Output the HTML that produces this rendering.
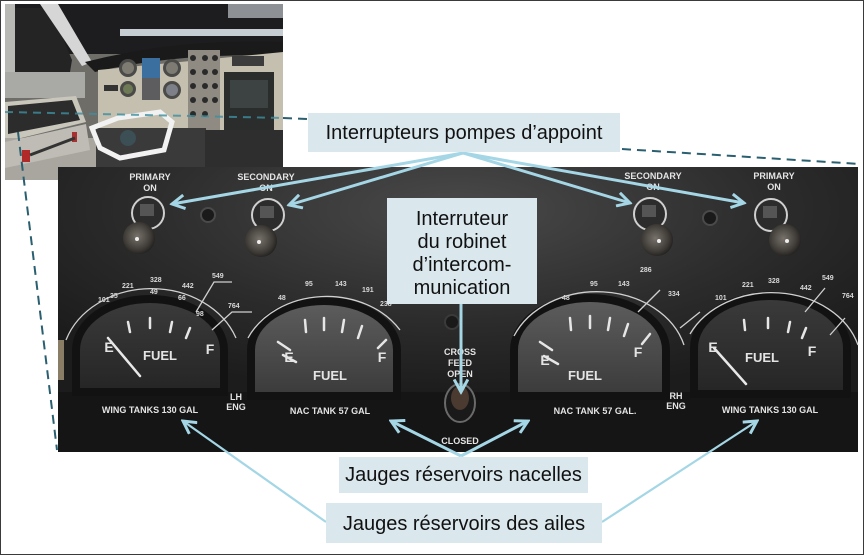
<!DOCTYPE html>
<html><head><meta charset="utf-8"><style>
html,body{margin:0;padding:0;background:#fff;}
svg{display:block;}
.lb{font-family:"Liberation Sans",Arial,sans-serif;font-size:20px;fill:#111;}
.pt{font-family:"Liberation Sans",Arial,sans-serif;font-weight:bold;fill:#e4e4e4;}
.sm{font-family:"Liberation Sans",Arial,sans-serif;font-weight:bold;fill:#d8d8d8;font-size:7px;}
</style></head><body>
<svg width="864" height="555" viewBox="0 0 864 555" xmlns="http://www.w3.org/2000/svg">
<defs>
<radialGradient id="pg" cx="0.5" cy="0.15" r="0.65">
<stop offset="0" stop-color="#4a4a4a"/><stop offset="0.6" stop-color="#2c2c2c"/><stop offset="1" stop-color="#1c1c1c"/></radialGradient>
<radialGradient id="kn" cx="0.45" cy="0.45" r="0.6">
<stop offset="0" stop-color="#77726a"/><stop offset="0.7" stop-color="#3e3b37"/><stop offset="1" stop-color="#1e1c1a"/></radialGradient>
<linearGradient id="fd" x1="0" y1="0" x2="0" y2="1">
<stop offset="0" stop-color="#3a3a3a"/><stop offset="1" stop-color="#262626"/></linearGradient>
<linearGradient id="fl" x1="0" y1="0" x2="0" y2="1">
<stop offset="0" stop-color="#5c5c5c"/><stop offset="1" stop-color="#3c3c3c"/></linearGradient>
<clipPath id="ph"><rect x="5" y="4" width="278" height="176"/></clipPath>
<marker id="ah" viewBox="0 0 14 14" refX="12" refY="7" markerWidth="16" markerHeight="16" markerUnits="userSpaceOnUse" orient="auto"><path d="M1,1 L12,7 L1,13" fill="none" stroke="#a4d6e6" stroke-width="2.6"/></marker>
</defs>
<rect x="0.5" y="0.5" width="863" height="554" fill="#fff" stroke="#3a3a3a"/>

<!-- cockpit photo -->
<g clip-path="url(#ph)">
<rect x="5" y="4" width="278" height="176" fill="#6e6d68"/>
<rect x="5" y="4" width="278" height="50" fill="#1d1d1f"/>
<rect x="228" y="4" width="55" height="14" fill="#8d9094"/>
<rect x="5" y="4" width="10" height="92" fill="#b8b8b4"/>
<polygon points="15,8 50,8 72,60 70,72 15,72" fill="#242424"/>
<polygon points="40,4 58,4 92,62 82,66" fill="#d6d6d6"/>
<rect x="5" y="72" width="80" height="26" fill="#a9a9a5"/>
<rect x="120" y="29" width="163" height="7" fill="#c6cdd3"/>
<path d="M85,62 Q180,38 283,42 L283,56 Q180,52 95,72 Z" fill="#1a1a1a"/>
<polygon points="98,70 283,52 283,140 98,140" fill="#c4bfaf"/>
<circle cx="128" cy="68" r="9" fill="#4a4a48"/><circle cx="128" cy="68" r="6" fill="#7d7b72"/>
<rect x="142" y="58" width="18" height="20" fill="#3a6fa0"/>
<rect x="142" y="78" width="18" height="22" fill="#5d5d60"/>
<circle cx="172" cy="68" r="9" fill="#4a4a48"/><circle cx="172" cy="68" r="6" fill="#7d7b72"/>
<circle cx="128" cy="89" r="8" fill="#4a4a48"/><circle cx="128" cy="89" r="5" fill="#6d7a55"/>
<circle cx="172" cy="90" r="9" fill="#4a4a48"/><circle cx="172" cy="90" r="6" fill="#7d8088"/>
<rect x="104" y="85" width="14" height="6" fill="#333"/>
<rect x="188" y="50" width="32" height="80" fill="#8f8b82"/>
<g fill="#2a2a2a"><circle cx="193" cy="58" r="3"/><circle cx="205" cy="58" r="3"/><circle cx="215" cy="58" r="3"/><circle cx="193" cy="72" r="3"/><circle cx="205" cy="72" r="3"/><circle cx="215" cy="72" r="3"/><circle cx="193" cy="86" r="3"/><circle cx="205" cy="86" r="3"/><circle cx="215" cy="86" r="3"/><circle cx="193" cy="100" r="3"/><circle cx="205" cy="100" r="3"/><circle cx="215" cy="100" r="3"/><circle cx="193" cy="114" r="3"/><circle cx="205" cy="114" r="3"/></g>
<rect x="232" y="56" width="32" height="10" fill="#3c3c3c"/>
<rect x="224" y="72" width="50" height="58" fill="#2b2d2c"/>
<rect x="230" y="80" width="38" height="28" fill="#3d4342"/>
<polygon points="5,102 76,96 86,122 5,142" fill="#c9c6bc"/>
<polygon points="8,106 72,100 80,120 8,134" fill="#2b2c2b"/>
<rect x="5" y="138" width="278" height="42" fill="#a8a69e"/>
<polygon points="5,142 86,124 90,150 5,168" fill="#bebcb4"/>
<rect x="22" y="150" width="8" height="12" fill="#b02a2a"/>
<rect x="72" y="132" width="5" height="10" fill="#a83030"/>
<line x1="30" y1="155" x2="75" y2="138" stroke="#333" stroke-width="3"/>
<rect x="96" y="128" width="110" height="52" fill="#3a3a3a"/>
<rect x="205" y="130" width="78" height="50" fill="#2e2e2e"/>
<path d="M92,128 L118,118 L160,112 L172,122 L164,150 L120,158 L100,148 Z" fill="none" stroke="#f2f2f2" stroke-width="5"/>
<circle cx="128" cy="138" r="8" fill="#3b4f55"/>
<line x1="5" y1="112" x2="283" y2="118" stroke="#3d8fa0" stroke-width="2" stroke-dasharray="8 6" opacity="0.8"/>
</g>

<!-- black panel -->
<rect x="58" y="167" width="800" height="285" fill="url(#pg)"/>
<rect x="58" y="392" width="800" height="60" fill="#111" opacity="0.55"/>
<rect x="58" y="340" width="6" height="40" fill="#8a7d66"/>

<!-- switch labels -->
<g class="pt" font-size="9" text-anchor="middle" fill="#c8c8c8">
<text x="150" y="180">PRIMARY</text><text x="150" y="191">ON</text>
<text x="266" y="180">SECONDARY</text><text x="266" y="191">ON</text>
<text x="653" y="179">SECONDARY</text><text x="653" y="190">ON</text>
<text x="774" y="179">PRIMARY</text><text x="774" y="190">ON</text>
</g>

<!-- switches -->
<g>
<circle cx="148" cy="213" r="16" fill="#2c2c2c" stroke="#cfcfcf" stroke-width="2"/>
<rect x="140" y="204" width="14" height="12" fill="#555"/>
<circle cx="139" cy="238" r="16" fill="url(#kn)"/><circle cx="137" cy="239" r="2" fill="#eee"/>
<circle cx="268" cy="215" r="16" fill="#2c2c2c" stroke="#cfcfcf" stroke-width="2"/>
<rect x="260" y="206" width="14" height="12" fill="#555"/>
<circle cx="261" cy="241" r="16" fill="url(#kn)"/><circle cx="259" cy="242" r="2" fill="#eee"/>
<circle cx="650" cy="214" r="16" fill="#2c2c2c" stroke="#cfcfcf" stroke-width="2"/>
<rect x="642" y="205" width="14" height="12" fill="#555"/>
<circle cx="657" cy="240" r="16" fill="url(#kn)"/><circle cx="659" cy="241" r="2" fill="#eee"/>
<circle cx="771" cy="215" r="16" fill="#2c2c2c" stroke="#cfcfcf" stroke-width="2"/>
<rect x="763" y="206" width="14" height="12" fill="#555"/>
<circle cx="785" cy="240" r="16" fill="url(#kn)"/><circle cx="787" cy="241" r="2" fill="#eee"/>
<circle cx="208" cy="215" r="7" fill="#1a1a1a" stroke="#4a4a4a" stroke-width="2"/>
<circle cx="710" cy="218" r="7" fill="#1a1a1a" stroke="#4a4a4a" stroke-width="2"/>
<circle cx="452" cy="322" r="7" fill="#1a1a1a" stroke="#3a3a3a" stroke-width="2"/>
</g>

<!-- gauge bezels -->
<g fill="#121212">
<path d="M72,396 L72,350 A78,55 0 0 1 228,350 L228,396 Z"/>
<path d="M247,400 L247,350 A77,53 0 0 1 401,350 L401,400 Z"/>
<path d="M510,400 L510,350 A80,56 0 0 1 670,350 L670,400 Z"/>
<path d="M690,398 L690,348 A80,56 0 0 1 851,348 L851,398 Z"/>
</g>
<!-- faces -->
<path d="M80,388 L80,350 A70,47 0 0 1 220,350 L220,388 Z" fill="url(#fd)"/>
<path d="M255,392 L255,350 A69,45 0 0 1 393,350 L393,392 Z" fill="url(#fl)"/>
<path d="M518,392 L518,350 A72,48 0 0 1 662,350 L662,392 Z" fill="url(#fl)"/>
<path d="M698,390 L698,348 A72.5,48 0 0 1 843,348 L843,390 Z" fill="url(#fd)"/>

<!-- scale arcs -->
<g fill="none" stroke="#d0d0d0" stroke-width="1.3">
<path d="M66,340 A90,75 0 0 1 236,338"/>
<path d="M248,338 A86,70 0 0 1 400,330"/>
<path d="M514,336 A90,72 0 0 1 684,345"/>
<path d="M690,334 A90,72 0 0 1 858,345"/>
<path d="M196,312 L214,282 L232,282"/><path d="M212,330 L232,312 L252,312"/>
<path d="M660,290 L638,312"/><path d="M700,312 L680,328"/>
<path d="M825,288 L805,312"/><path d="M845,318 L830,335"/>
</g>
<g class="sm">
<text x="98" y="302">101</text><text x="122" y="288">221</text><text x="150" y="282">328</text><text x="182" y="288">442</text><text x="212" y="278">549</text><text x="228" y="308">764</text>
<text x="110" y="298">35</text><text x="150" y="294">49</text><text x="178" y="300">66</text><text x="196" y="316">98</text>
<text x="278" y="300">48</text><text x="305" y="286">95</text><text x="335" y="286">143</text><text x="362" y="292">191</text><text x="380" y="306">238</text>
<text x="562" y="300">48</text><text x="590" y="286">95</text><text x="618" y="286">143</text><text x="640" y="272">286</text><text x="668" y="296">334</text>
<text x="715" y="300">101</text><text x="742" y="287">221</text><text x="768" y="283">328</text><text x="800" y="290">442</text><text x="822" y="280">549</text><text x="842" y="298">764</text>
</g>

<!-- gauge ticks & labels -->
<g stroke="#e6e6e6" stroke-width="2.5" stroke-linecap="round">
<line x1="128" y1="322" x2="130" y2="332"/><line x1="150" y1="318" x2="150" y2="328"/><line x1="172" y1="322" x2="170" y2="332"/><line x1="190" y1="328" x2="186" y2="338"/>
<line x1="278" y1="342" x2="290" y2="350"/><line x1="283" y1="355" x2="296" y2="362"/><line x1="305" y1="320" x2="306" y2="332"/><line x1="324" y1="318" x2="324" y2="330"/><line x1="344" y1="320" x2="342" y2="332"/><line x1="362" y1="326" x2="358" y2="338"/><line x1="386" y1="340" x2="378" y2="348"/>
<line x1="540" y1="342" x2="552" y2="350"/><line x1="544" y1="356" x2="558" y2="364"/><line x1="570" y1="318" x2="571" y2="330"/><line x1="590" y1="316" x2="590" y2="328"/><line x1="610" y1="318" x2="608" y2="330"/><line x1="628" y1="324" x2="624" y2="336"/><line x1="650" y1="334" x2="642" y2="344"/>
<line x1="744" y1="320" x2="745" y2="330"/><line x1="768" y1="318" x2="768" y2="328"/><line x1="790" y1="322" x2="788" y2="332"/><line x1="806" y1="328" x2="802" y2="338"/>
</g>
<g stroke="#e8e8e8" stroke-width="2.5" stroke-linecap="round">
<line x1="108" y1="338" x2="140" y2="376"/>
<line x1="714" y1="348" x2="746" y2="384"/>
</g>
<g class="pt" font-size="13" text-anchor="middle">
<text x="160" y="360">FUEL</text><text x="330" y="380">FUEL</text><text x="585" y="380">FUEL</text><text x="762" y="362">FUEL</text>
<text x="109" y="352" font-size="14">E</text><text x="210" y="354" font-size="14">F</text>
<text x="289" y="362" font-size="14">E</text><text x="382" y="362" font-size="14">F</text>
<text x="545" y="365" font-size="14">E</text><text x="638" y="357" font-size="14">F</text>
<text x="713" y="352" font-size="14">E</text><text x="812" y="356" font-size="14">F</text>
</g>
<g class="pt" font-size="9" text-anchor="middle">
<text x="150" y="413">WING  TANKS 130 GAL</text>
<text x="330" y="414">NAC TANK 57 GAL</text>
<text x="595" y="414">NAC TANK 57 GAL.</text>
<text x="770" y="413">WING TANKS 130 GAL</text>
<text x="236" y="400">LH</text><text x="236" y="410">ENG</text>
<text x="676" y="399">RH</text><text x="676" y="409">ENG</text>
<text x="460" y="355">CROSS</text><text x="460" y="366">FEED</text><text x="460" y="377">OPEN</text>
<text x="460" y="444">CLOSED</text>
</g>
<!-- crossfeed switch -->
<ellipse cx="460" cy="403" rx="15" ry="19" fill="#1a1a1a" stroke="#6a6a6a" stroke-width="2"/>
<ellipse cx="460" cy="398" rx="9" ry="12" fill="#4a3a30"/>

<!-- dashed leader lines -->
<g stroke="#2a5f70" stroke-width="2" stroke-dasharray="9 6" fill="none">
<line x1="283" y1="118" x2="308" y2="119"/>
<line x1="622" y1="149" x2="860" y2="164"/>
<line x1="18" y1="132" x2="57" y2="450"/>
</g>

<!-- arrows -->
<g stroke="#a4d6e6" stroke-width="3" fill="none">
<line x1="463" y1="153" x2="172" y2="204" marker-end="url(#ah)"/>
<line x1="463" y1="153" x2="289" y2="205" marker-end="url(#ah)"/>
<line x1="463" y1="153" x2="630" y2="203" marker-end="url(#ah)"/>
<line x1="463" y1="153" x2="744" y2="203" marker-end="url(#ah)"/>
<line x1="461" y1="304" x2="461" y2="392" marker-end="url(#ah)"/>
<line x1="461" y1="456" x2="391" y2="421" marker-end="url(#ah)"/>
<line x1="461" y1="456" x2="528" y2="421" marker-end="url(#ah)"/>
<line x1="326" y1="522" x2="183" y2="421" marker-end="url(#ah)" stroke-width="2.2"/>
<line x1="602" y1="522" x2="757" y2="421" marker-end="url(#ah)" stroke-width="2.2"/>
</g>

<!-- label boxes -->
<rect x="308" y="113" width="312" height="39" fill="#dae8ee"/>
<text class="lb" x="464" y="139" text-anchor="middle">Interrupteurs pompes d’appoint</text>

<rect x="387" y="198" width="150" height="106" fill="#dae8ee"/>
<g class="lb" text-anchor="middle">
<text x="462" y="225">Interruteur</text>
<text x="462" y="248">du robinet</text>
<text x="462" y="271">d’intercom-</text>
<text x="462" y="294">munication</text>
</g>

<rect x="339" y="457" width="249" height="36" fill="#dae8ee"/>
<text class="lb" x="463.5" y="481" text-anchor="middle">Jauges réservoirs nacelles</text>

<rect x="326" y="503" width="276" height="40" fill="#dae8ee"/>
<text class="lb" x="464" y="530" text-anchor="middle">Jauges réservoirs des ailes</text>
</svg>
</body></html>
